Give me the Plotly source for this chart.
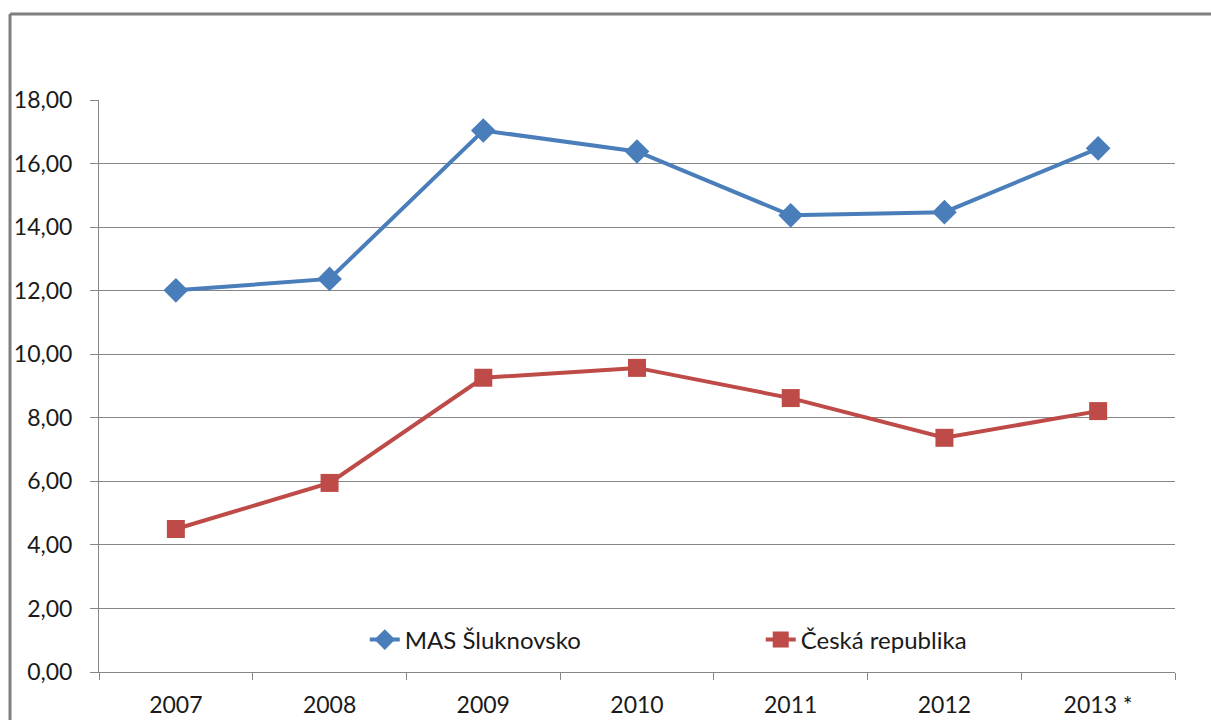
import plotly.graph_objects as go

years = ["2007", "2008", "2009", "2010", "2011", "2012", "2013 *"]
mas_sluknovsko = [12.01, 12.37, 17.04, 16.38, 14.37, 14.47, 16.48]
ceska_republika = [4.50, 5.95, 9.26, 9.57, 8.62, 7.37, 8.21]

blue = "#4A7EBB"
red = "#BE4B48"
grey = "#868686"

fig = go.Figure()
fig.add_trace(go.Scatter(
    x=years, y=mas_sluknovsko, name="MAS Šluknovsko", mode="lines+markers",
    line=dict(color=blue, width=4),
    marker=dict(symbol="diamond", size=19, color=blue),
    legend="legend",
))
fig.add_trace(go.Scatter(
    x=years, y=ceska_republika, name="Česká republika", mode="lines+markers",
    line=dict(color=red, width=4),
    marker=dict(symbol="square", size=18, color=red),
    legend="legend2",
))

legend_common = dict(
    orientation="h", y=0.056, xanchor="left", yanchor="middle",
    bgcolor="rgba(0,0,0,0)", font=dict(size=24, color="#1a1a1a"),
)

border = dict(color="#7f7f7f", width=3)

fig.update_layout(
    width=1211, height=720,
    margin=dict(l=99, r=36, t=100, b=48),
    paper_bgcolor="white", plot_bgcolor="white",
    separators=", ",
    font=dict(family="Lato, 'Open Sans', sans-serif", size=23, color="#1a1a1a"),
    showlegend=True,
    legend=dict(x=0.247, **legend_common),
    legend2=dict(x=0.615, **legend_common),
    xaxis=dict(
        type="category", range=[-0.5, 6.5], automargin=False,
        showline=True, linecolor=grey, linewidth=1,
        ticks="outside", tickson="boundaries", ticklen=7, tickcolor=grey,
        ticklabelstandoff=12,
        showgrid=False, zeroline=False,
    ),
    yaxis=dict(
        range=[0, 18], tickvals=[0, 2, 4, 6, 8, 10, 12, 14, 16, 18],
        tickformat=".2f", automargin=False,
        showline=True, linecolor=grey, linewidth=1,
        ticks="outside", ticklen=8, tickcolor=grey,
        ticklabelstandoff=13,
        showgrid=True, gridcolor=grey, gridwidth=1, zeroline=False,
    ),
    shapes=[
        dict(type="line", xref="paper", yref="paper",
             x0=-0.0827, y0=1.1503, x1=1.6, y1=1.1503, line=border, layer="below"),
        dict(type="line", xref="paper", yref="paper",
             x0=-0.0827, y0=1.1503, x1=-0.0827, y1=-0.6, line=border, layer="below"),
    ],
)

fig.write_html(
    "out.html",
    config={"displayModeBar": False},
    post_script="document.body.style.margin='0';document.body.style.overflow='hidden';",
)
